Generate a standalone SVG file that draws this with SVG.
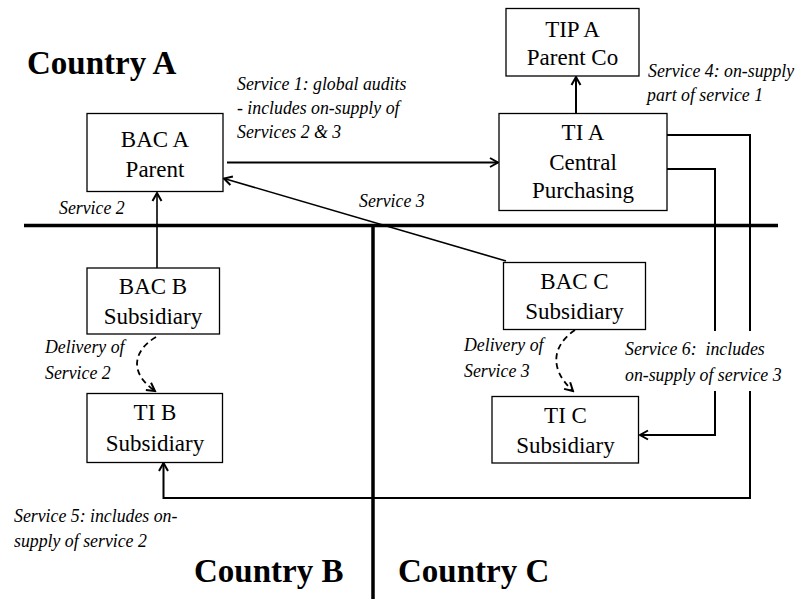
<svg xmlns="http://www.w3.org/2000/svg" width="797" height="599" viewBox="0 0 797 599">
  <style>
    .box { fill: #fff; stroke: #000; stroke-width: 1.3; }
    .nt { font-family: 'Liberation Serif', 'Times New Roman', 'DejaVu Serif', serif; font-size: 23px; text-anchor: middle; fill: #000; }
    .lbl { font-family: 'Liberation Serif', 'Times New Roman', 'DejaVu Serif', serif; font-size: 17.8px; font-style: italic; fill: #000; }
    .country { font-family: 'Liberation Serif', 'Times New Roman', 'DejaVu Serif', serif; font-size: 33px; font-weight: bold; fill: #000; }
    .border { stroke: #000; stroke-width: 3.5; fill: none; }
    .conn { stroke: #000; stroke-width: 2; fill: none; }
    .thin { stroke: #000; stroke-width: 1.6; fill: none; }
    .dash { stroke: #000; stroke-width: 1.8; fill: none; stroke-dasharray: 6 4; }
  </style>
  <defs>
    <marker id="arrow" markerUnits="userSpaceOnUse" viewBox="0 0 12 12" markerWidth="12" markerHeight="12" refX="10" refY="6" orient="auto">
      <path d="M2,1.5 L10,6 L2,10.5" fill="none" stroke="#000" stroke-width="2"/>
    </marker>
  </defs>

  <!-- country borders -->
  <g id="borders">
    <line class="border" x1="24" y1="225.5" x2="778" y2="225.5"/>
    <line class="border" x1="373" y1="225.5" x2="373" y2="599"/>
  </g>

  <!-- country names -->
  <g id="countries">
    <text class="country" x="27" y="74">Country A</text>
    <text class="country" x="194" y="582">Country B</text>
    <text class="country" x="398" y="582">Country C</text>
  </g>

  <!-- connectors -->
  <g id="connectors">
    <line class="conn" x1="227" y1="162.5" x2="498" y2="162.5" marker-end="url(#arrow)"/>
    <line class="conn" x1="576" y1="113" x2="576" y2="77" marker-end="url(#arrow)"/>
    <line class="thin" x1="157" y1="268" x2="157" y2="193" marker-end="url(#arrow)"/>
    <line class="thin" x1="506" y1="261" x2="224" y2="178.5" marker-end="url(#arrow)"/>
    <path class="conn" d="M667,135 H750 V498 H163.5 V463" marker-end="url(#arrow)"/>
    <path class="conn" d="M667,169 H715 V435 H640" marker-end="url(#arrow)"/>
    <path class="dash" d="M156,337 C134,350 128,372 155,391" marker-end="url(#arrow)"/>
    <path class="dash" d="M575,330 C553,345 548,368 573,391" marker-end="url(#arrow)"/>
  </g>

  <!-- nodes -->
  <g id="bac-a">
    <rect class="box" x="87" y="113.5" width="136" height="78"/>
    <text class="nt" x="155" y="147">BAC A</text>
    <text class="nt" x="155" y="177">Parent</text>
  </g>
  <g id="tip-a">
    <rect class="box" x="506" y="8.5" width="133" height="67.5"/>
    <text class="nt" x="572.5" y="37">TIP A</text>
    <text class="nt" x="572.5" y="65">Parent Co</text>
  </g>
  <g id="ti-a">
    <rect class="box" x="499" y="113.5" width="168" height="97"/>
    <text class="nt" x="583" y="140">TI A</text>
    <text class="nt" x="583" y="170">Central</text>
    <text class="nt" x="583" y="198">Purchasing</text>
  </g>
  <g id="bac-b">
    <rect class="box" x="87" y="268" width="132.5" height="66"/>
    <text class="nt" x="153" y="294">BAC B</text>
    <text class="nt" x="153" y="324">Subsidiary</text>
  </g>
  <g id="ti-b">
    <rect class="box" x="87" y="393.5" width="135.5" height="69"/>
    <text class="nt" x="155" y="420">TI B</text>
    <text class="nt" x="155" y="451">Subsidiary</text>
  </g>
  <g id="bac-c">
    <rect class="box" x="503.5" y="262.5" width="142" height="67"/>
    <text class="nt" x="574.5" y="289">BAC C</text>
    <text class="nt" x="574.5" y="318.5">Subsidiary</text>
  </g>
  <g id="ti-c">
    <rect class="box" x="492" y="396.5" width="146.5" height="66.5"/>
    <text class="nt" x="565.5" y="423">TI C</text>
    <text class="nt" x="565.5" y="453">Subsidiary</text>
  </g>

  <!-- connector labels -->
  <g id="labels">
    <text class="lbl" x="237" y="90">Service 1: global audits</text>
    <text class="lbl" x="237" y="113.5">- includes on-supply of</text>
    <text class="lbl" x="237" y="137.5">Services 2 &amp; 3</text>
    <text class="lbl" x="648" y="77">Service 4: on-supply</text>
    <text class="lbl" x="647" y="101">part of service 1</text>
    <text class="lbl" x="59" y="214">Service 2</text>
    <text class="lbl" x="359" y="207">Service 3</text>
    <text class="lbl" x="45" y="353">Delivery of</text>
    <text class="lbl" x="45" y="379">Service 2</text>
    <text class="lbl" x="464" y="351">Delivery of</text>
    <text class="lbl" x="464" y="376.5">Service 3</text>
    <rect x="620" y="331" width="166" height="60" fill="#fff"/>
    <text class="lbl" x="625" y="355" xml:space="preserve">Service 6:  includes</text>
    <text class="lbl" x="625" y="380.5">on-supply of service 3</text>
    <text class="lbl" x="14" y="521.5">Service 5: includes on-</text>
    <text class="lbl" x="14" y="546.5">supply of service 2</text>
  </g>
</svg>
